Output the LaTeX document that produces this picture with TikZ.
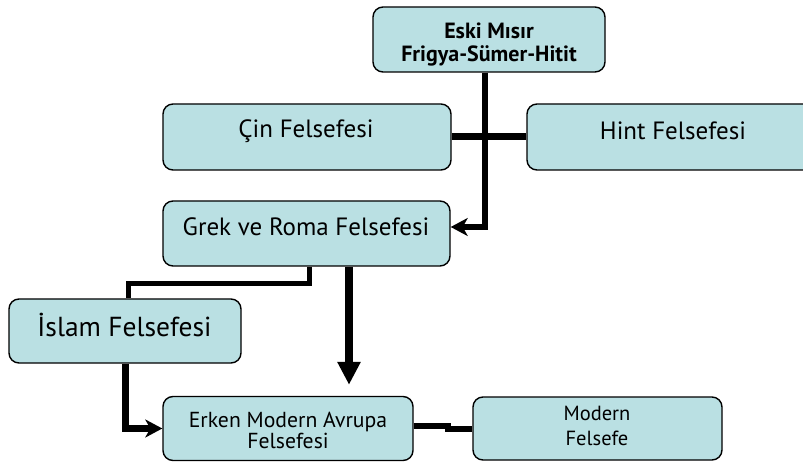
\documentclass[tikz,border=0pt]{standalone}
\usepackage{fontspec}
\setmainfont{PT Sans}
\usetikzlibrary{arrows.meta}
\definecolor{boxfill}{HTML}{BAE0E3}
\tikzset{
  box/.style={draw=black, line width=1.4pt, fill=boxfill, rounded corners=10pt,
    inner sep=0pt, anchor=center},
  lbl/.style={inner sep=0pt, align=center, text=black, anchor=center},
  link/.style={line width=#1, line join=miter},
  link/.default=6.5pt,
  sidearrow/.style={-{Stealth[length=17pt,width=18pt,inset=5pt]}},
  downarrow/.style={-{Triangle[length=23pt,width=22pt]}}
}
\begin{document}
\begin{tikzpicture}[x=1pt,y=-1pt]
  \useasboundingbox (0,0) rectangle (803,462);
  % boxes
  \node[box, minimum width=232pt, minimum height=65pt] (eski)   at (489,39.5)  {};
  \node[box, minimum width=288pt, minimum height=66pt] (cin)    at (307,137)   {};
  \node[box, minimum width=293pt, minimum height=66pt] (hint)   at (673.5,137) {};
  \node[box, minimum width=287pt, minimum height=65pt] (grek)   at (306.5,233.5) {};
  \node[box, minimum width=232pt, minimum height=64pt] (islam)  at (125,331)   {};
  \node[box, minimum width=250pt, minimum height=64pt] (erken)  at (288,428.5) {};
  \node[box, minimum width=249pt, minimum height=63pt] (modern) at (597.5,428.5) {};
  % labels
  \node[lbl, font={\fontsize{22}{23}\selectfont\bfseries}] (eskit) at (489,44.5) {Eski Mısır\\Frigya-Sümer-Hitit};
  \node[lbl, font={\fontsize{25}{26}\selectfont}] (cint)  at (306,131) {Çin Felsefesi};
  \node[lbl, font={\fontsize{25}{26}\selectfont}] (hintt) at (673,131) {Hint Felsefesi};
  \node[lbl, font={\fontsize{25}{26}\selectfont}] (grekt) at (306,227) {Grek ve Roma Felsefesi};
  \node[lbl, font={\fontsize{27.5}{28}\selectfont}] (islamt) at (124.5,325) {İslam Felsefesi};
  \node[lbl, font={\fontsize{21.7}{21}\selectfont}] (erkent) at (288,430) {Erken Modern Avrupa\\Felsefesi};
  \node[lbl, font={\fontsize{20.5}{25}\selectfont}] (modernt) at (597,426) {Modern\\Felsefe};
  % routing points
  \coordinate (vx) at (485,227);
  \coordinate (gl) at (309,284);
  \coordinate (gd) at (349,0);
  \coordinate (ms) at (448,427);
  % connectors
  \draw[link=7pt] (cin.east) -- (hint.west);
  \draw[link, sidearrow] (eski.south -| vx) -- (vx) -- ([yshift=6.5pt]grek.east);
  \draw[link=5pt] (grek.south -| gl) -- (gl) -| ([xshift=3pt]islam.north);
  \draw[link=8pt, downarrow, shorten >=11pt] (grek.south -| gd) -- (erken.north -| gd);
  \draw[link=7pt, sidearrow] (islam.south) |- (erken.west);
  \draw[link=6pt] ([yshift=3pt]erken.east) -| (ms) |- ([yshift=-0.5pt]modern.west);
\end{tikzpicture}
\end{document}
